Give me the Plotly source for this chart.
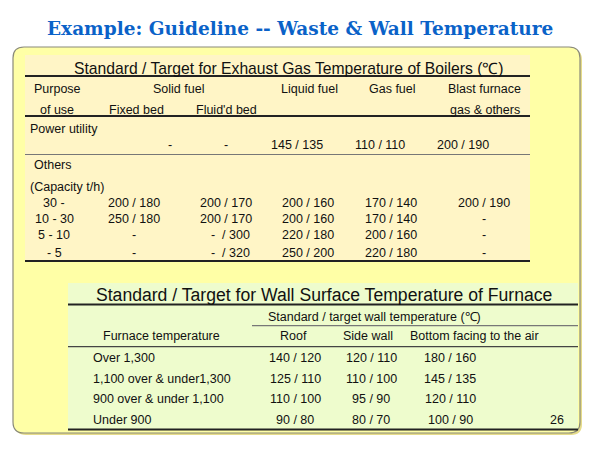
import plotly.graph_objects as go

# ---------------- data ----------------
title_text = "Example: Guideline -- Waste & Wall Temperature"

boiler_title = "Standard / Target for Exhaust Gas Temperature of Boilers (℃)"
boiler_head1 = ["Purpose", "Solid fuel", "Liquid fuel", "Gas fuel", "Blast furnace"]
boiler_head2 = ["of use", "Fixed bed", "Fluid'd bed", "gas & others"]
power_label = "Power utility"
power_values = ["-", "-", "145 / 135", "110 / 110", "200 / 190"]
others_label = "Others"
capacity_label = "(Capacity t/h)"
capacity_classes = ["30 -", "10 - 30", "5 - 10", "- 5"]
fixed_bed = ["200 / 180", "250 / 180", "-", "-"]
fluid_bed = ["200 / 170", "200 / 170", "-  / 300", "-  / 320"]
liquid_fuel = ["200 / 160", "200 / 160", "220 / 180", "250 / 200"]
gas_fuel = ["170 / 140", "170 / 140", "200 / 160", "220 / 180"]
blast_gas = ["200 / 190", "-", "-", "-"]

wall_title = "Standard / Target for Wall Surface Temperature of Furnace"
wall_group = "Standard / target wall temperature (℃)"
wall_head = ["Furnace temperature", "Roof", "Side wall", "Bottom facing to the air"]
furnace_temps = ["Over 1,300", "1,100 over & under1,300", "900 over & under 1,100", "Under 900"]
roof = ["140 / 120", "125 / 110", "110 / 100", "90 / 80"]
side_wall = ["120 / 110", "110 / 100", "95 / 90", "80 / 70"]
bottom_air = ["180 / 160", "145 / 135", "120 / 110", "100 / 90"]
page_number = "26"

# ---------------- layout helpers ----------------
BODY = "Liberation Sans, Arial, sans-serif"
TXT = "#111111"
fig = go.Figure()
ann = []
shapes = []


def text(x, y, s, size=12.5, anchor="center", color=TXT, family=BODY):
    ann.append(dict(x=x, y=y, xref="x", yref="y", text=s, showarrow=False,
                    xanchor=anchor, yanchor="middle",
                    font=dict(family=family, size=size, color=color)))


def hline(x0, x1, y, w=2, color="#222222"):
    shapes.append(dict(type="line", xref="x", yref="y", x0=x0, x1=x1, y0=y, y1=y,
                       line=dict(color=color, width=w)))


def rrect(x0, y0, x1, y1, r, fill, line_color, lw):
    p = (f"M{x0+r},{y0} L{x1-r},{y0} Q{x1},{y0} {x1},{y0+r} L{x1},{y1-r} "
         f"Q{x1},{y1} {x1-r},{y1} L{x0+r},{y1} Q{x0},{y1} {x0},{y1-r} "
         f"L{x0},{y0+r} Q{x0},{y0} {x0+r},{y0} Z")
    shapes.append(dict(type="path", xref="x", yref="y", path=p, fillcolor=fill,
                       line=dict(color=line_color, width=lw), layer="below"))


def rect(x0, y0, x1, y1, fill):
    shapes.append(dict(type="rect", xref="x", yref="y", x0=x0, x1=x1, y0=y0, y1=y1,
                       fillcolor=fill, line=dict(width=0), layer="below"))


# outer rounded panel (with soft shadow)
rrect(15, 49, 582, 435, 11, "#e6dc8a", "rgba(0,0,0,0)", 0)
rrect(13, 47, 580, 433, 11, "#ffffa6", "#8a8a7a", 1.2)

# title
text(300, 28, "<b>" + title_text + "</b>", size=18.5, color="#0a62c8",
     family="DejaVu Serif, Georgia, serif")

# ---------------- boiler table ----------------
rect(25, 55, 530, 262, "#fff5c6")
text(289, 68, boiler_title, size=15.7)
hline(25, 530, 76)
hx1 = [57, 178, 309, 392, 484]
for x, s in zip(hx1, boiler_head1):
    text(x, 89, s)
hx2 = [57, 136, 226, 485]
for x, s in zip(hx2, boiler_head2):
    text(x, 110, s)
hline(25, 530, 116)
text(28, 129, power_label, anchor="left")
px = [170, 226, 297, 380, 463]
for x, s in zip(px, power_values):
    text(x, 145, s)
hline(25, 530, 154.5, w=1.2, color="#777777")
text(53, 165, others_label)
text(28, 187, capacity_label, anchor="left")
row_y = [203, 219, 235, 253]
col_x = [134, 226, 308, 391, 484]
for i, y in enumerate(row_y):
    text(54, y, capacity_classes[i])
    vals = [fixed_bed[i], fluid_bed[i], liquid_fuel[i], gas_fuel[i], blast_gas[i]]
    for x, s in zip(col_x, vals):
        if "/ 3" in s:
            text(x + 4, y, s)
        else:
            text(x, y, s)
hline(25, 530, 261)

# ---------------- wall table ----------------
rect(68, 283, 578, 430, "#eefccd")
text(324, 295, wall_title, size=17.6)
hline(68, 578, 304.5)
text(374, 316.5, wall_group)
hline(252, 578, 325.7, w=1.2, color="#777777")
wx = [161, 293, 368, 474]
for x, s in zip(wx, wall_head):
    text(x, 336, s)
hline(68, 578, 346.7, w=1.2, color="#444444")
wy = [357.5, 378.5, 398.5, 420]
for i, y in enumerate(wy):
    text(91, y, furnace_temps[i], anchor="left")
    text(295, y, roof[i])
    text(371, y, side_wall[i])
    text(450, y, bottom_air[i])
text(557, 420, page_number)
hline(68, 578, 429.5)

# the page body adds an 8 px offset; shift the axis ranges to compensate
fig.update_layout(
    width=600, height=450, margin=dict(l=0, r=0, t=0, b=0),
    paper_bgcolor="white", plot_bgcolor="white",
    xaxis=dict(range=[8, 608], visible=False, fixedrange=True),
    yaxis=dict(range=[458, 8], visible=False, fixedrange=True),
    annotations=ann, shapes=shapes, showlegend=False,
)
fig.write_html("out.html")
